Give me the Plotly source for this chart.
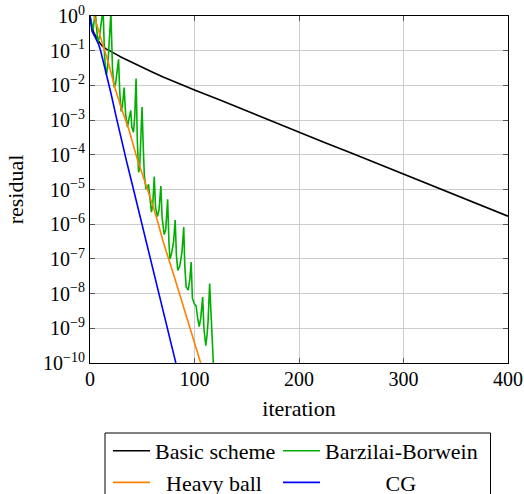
import plotly.graph_objects as go

# ---- data (iteration, log10(residual)) ----
basic_iter = [0, 1, 2, 4, 6, 8, 10, 12, 15, 19, 22, 26, 30, 40, 50, 60, 70, 80, 90, 100,
              125, 150, 175, 200, 225, 250, 275, 300, 325, 350, 375, 400]
basic_log = [0, -0.22, -0.35, -0.5, -0.62, -0.72, -0.8, -0.87, -0.94, -1.0, -1.05, -1.12,
             -1.19, -1.34, -1.48, -1.62, -1.76, -1.89, -2.01, -2.13, -2.43, -2.74, -3.04,
             -3.34, -3.65, -3.95, -4.25, -4.55, -4.86, -5.16, -5.46, -5.77]

bb_iter = [0, 2, 3, 5, 7.5, 9, 10.5, 12.5, 14, 15.7, 17, 18.5, 20, 21.5, 23, 24.5, 26, 27.3,
           28.5, 29.8, 31, 32.7, 34, 35.8, 37, 39, 40, 41.6, 42.8, 44.1, 45.3, 46.5, 47.5,
           48.5, 49.8, 51, 52, 53.5, 55, 56, 57.5, 58.8, 60, 61.5, 62.7, 64.5, 66, 67.8, 69,
           71, 72.5, 74.3, 75.5, 76.5, 78, 80, 81.5, 82.7, 84, 86, 88, 89.7, 90.7, 92, 94,
           95.5, 96.8, 98, 100, 101.5, 103, 104.5, 106, 107.8, 109, 110.8, 112, 113, 114.5,
           116, 118.5]
bb_log = [0, -0.35, -0.4, 0.15, -0.78, -0.6, -0.3, 0.2, -1.2, -1.7, -1.45, -0.8, 0.1, -1.5,
          -2.05, -1.95, -1.6, -1.25, -2.2, -2.75, -2.6, -2.06, -2.8, -3.2, -3.0, -2.72, -3.2,
          -3.35, -2.9, -1.8, -3.6, -4.5, -4.4, -3.6, -2.62, -3.8, -4.6, -4.97, -4.95, -4.85,
          -5.35, -5.65, -5.45, -4.63, -5.5, -5.78, -5.6, -4.9, -5.8, -6.3, -6.15, -5.28, -6.5,
          -7.0, -6.85, -6.5, -5.88, -6.9, -7.33, -7.2, -6.8, -6.08, -7.2, -7.8, -7.9, -7.6,
          -7.09, -8.14, -8.3, -8.35, -8.7, -8.95, -8.7, -8.1, -9.0, -9.5, -9.2, -8.8, -7.71,
          -8.9, -10.3]

hb_iter = [0, 1, 2, 3, 4, 6, 8, 10, 13, 18, 24, 30, 37, 45, 55, 60, 65, 70, 80, 90, 100,
           106, 110]
hb_log = [0, 0.1, 0.12, 0.1, 0.02, -0.2, -0.4, -0.62, -0.9, -1.39, -2.08, -2.66, -3.25,
          -4.1, -4.98, -5.45, -5.95, -6.5, -7.45, -8.45, -9.42, -10.0, -10.4]

cg_iter = [0, 1, 2, 4, 6, 8, 10, 12, 14, 16, 18, 20, 25, 30, 35, 40, 50, 60, 70, 80, 85]
cg_log = [0, -0.3, -0.45, -0.56, -0.66, -0.8, -0.98, -1.22, -1.47, -1.73, -1.98, -2.22,
          -2.9, -3.57, -4.19, -4.8, -6.03, -7.26, -8.49, -9.72, -10.35]

NB = "\u00a0"
# (legend label, x, log10 y, colour, legend column)
series = [
    ("Basic scheme", basic_iter, basic_log, "#000000", "legend"),
    ("Barzilai-Borwein", bb_iter, bb_log, "#00b000", "legend2"),
    (NB * 2 + "Heavy ball", hb_iter, hb_log, "#ff8000", "legend"),
    (NB * 11 + "CG", cg_iter, cg_log, "#0000ff", "legend2"),
]

y_exponents = list(range(0, -11, -1))
y_tickvals = [10.0 ** e for e in y_exponents]
y_ticktext = ["10<sup>%s</sup>" % (str(e).replace("-", "\u2212")) for e in y_exponents]
x_tickvals = [0, 100, 200, 300, 400]

FONT = "Liberation Serif"
TXT = 22

fig = go.Figure()
for i, (name, xs, ls, color, leg) in enumerate(series):
    fig.add_trace(go.Scatter(
        x=xs, y=[10.0 ** v for v in ls], mode="lines", name=name,
        line=dict(color=color, width=1.6), legend=leg, legendgroup="g%d" % i,
    ))

axis_common = dict(
    showline=True, linecolor="#000000", linewidth=1, mirror="ticks",
    ticks="inside", ticklen=5, tickcolor="#555555", tickwidth=1,
    showgrid=True, gridcolor="#cccccc", gridwidth=1, zeroline=False,
    tickfont=dict(family=FONT, size=20, color="#000000"), automargin=False,
)

fig.update_xaxes(
    range=[0, 400], tickvals=x_tickvals, ticklabelstandoff=-2,
    title=dict(text="iteration", font=dict(family=FONT, size=TXT, color="#000000"), standoff=11),
    **axis_common,
)
fig.update_yaxes(
    type="log", range=[-10, 0], tickvals=y_tickvals, ticktext=y_ticktext,
    title=dict(text="residual", font=dict(family=FONT, size=TXT, color="#000000"), standoff=13),
    **axis_common,
)

# plot area: x 90..508 px, y 16..363 px
PL, PW, PT, PH = 90, 418, 16, 347
def px(xp):
    return (xp - PL) / PW
def py(yp):
    return (PT + PH - yp) / PH

leg_common = dict(
    orientation="v", yanchor="top", xanchor="left",
    borderwidth=0, bgcolor="rgba(0,0,0,0)",
    font=dict(family=FONT, size=TXT, color="#000000"),
    itemwidth=37, tracegroupgap=0,
)

fig.update_layout(
    width=524, height=494,
    margin=dict(l=PL, r=524 - PL - PW, t=PT, b=494 - PT - PH, autoexpand=False),
    paper_bgcolor="white", plot_bgcolor="white",
    font=dict(family=FONT, size=20, color="#000000"),
    showlegend=True,
    legend=dict(x=px(108), y=py(430), **leg_common),
    legend2=dict(x=px(278), y=py(430), **leg_common),
    shapes=[dict(type="rect", xref="paper", yref="paper",
                 x0=px(105), x1=px(490.5), y0=py(433), y1=py(560),
                 line=dict(color="#000000", width=1), fillcolor="rgba(0,0,0,0)")],
)

fig.write_html("out.html", config={"displayModeBar": False},
               post_script="document.body.style.margin='0';")
